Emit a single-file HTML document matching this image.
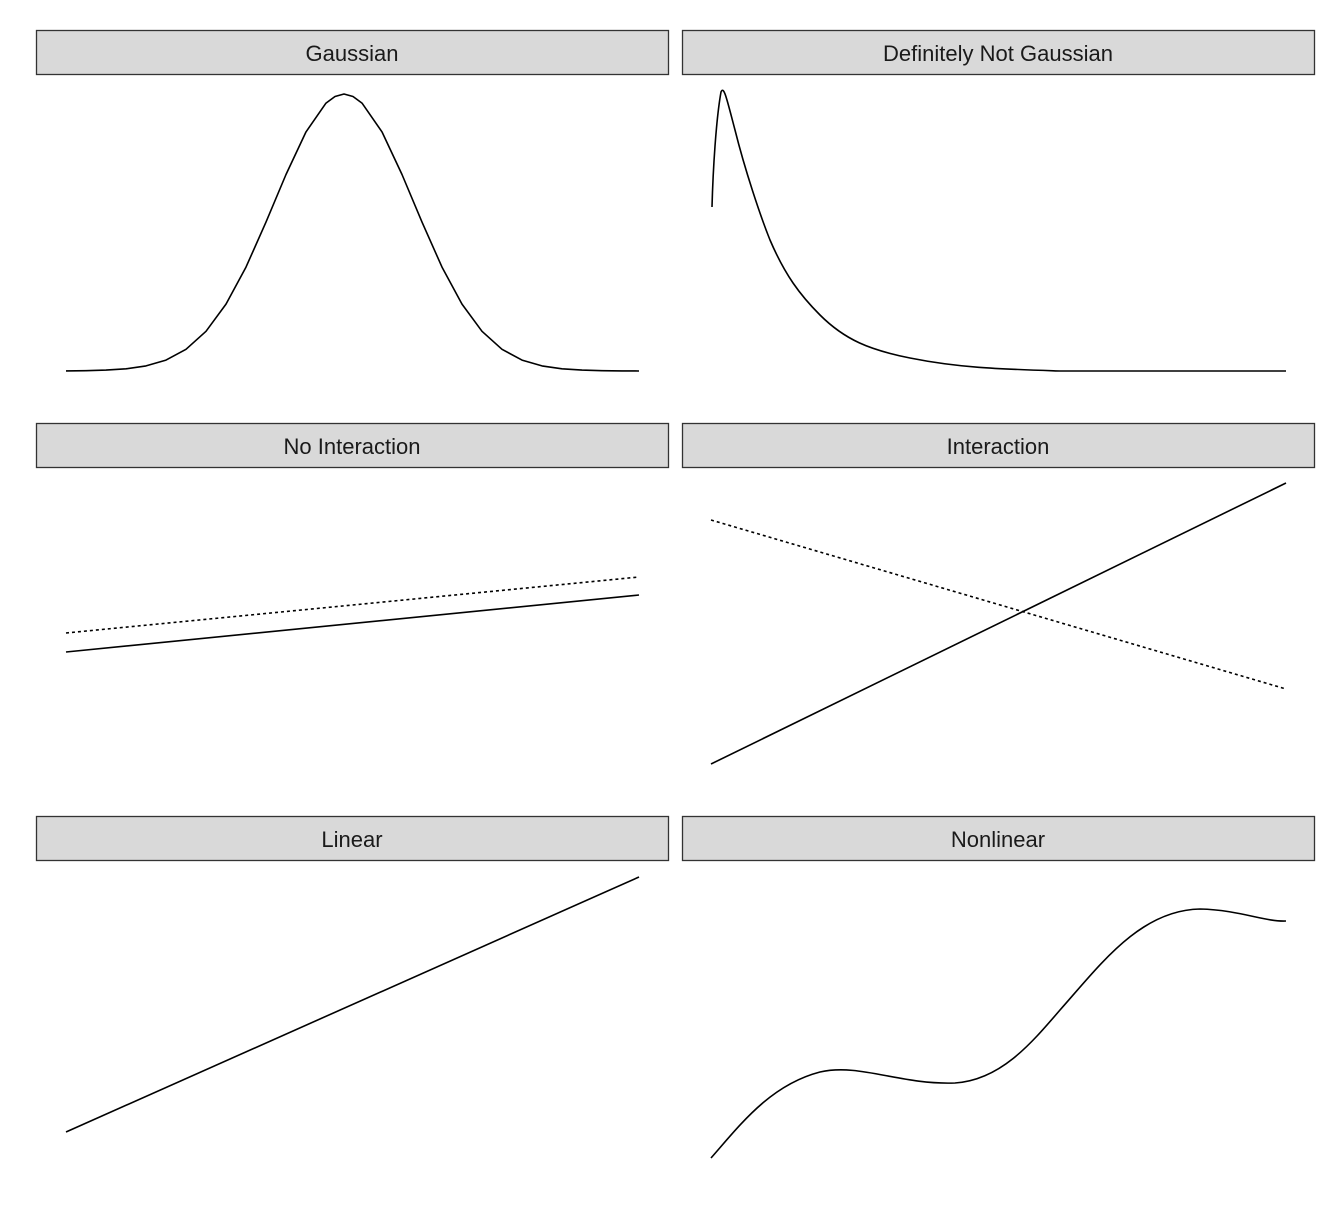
<!DOCTYPE html>
<html><head><style>
body{margin:0;background:#fff;}
svg{display:block;}
text{font-family:"Liberation Sans",sans-serif;font-size:22px;fill:#1a1a1a;}
</style></head><body>
<svg width="1344" height="1209" viewBox="0 0 1344 1209">
<g fill="#d9d9d9" stroke="#333" stroke-width="1.3">
<rect x="36.5" y="30.5" width="632" height="44"/>
<rect x="682.5" y="30.5" width="632" height="44"/>
<rect x="36.5" y="423.5" width="632" height="44"/>
<rect x="682.5" y="423.5" width="632" height="44"/>
<rect x="36.5" y="816.5" width="632" height="44"/>
<rect x="682.5" y="816.5" width="632" height="44"/>
</g>
<g text-anchor="middle">
<text x="352" y="61">Gaussian</text>
<text x="998" y="61">Definitely Not Gaussian</text>
<text x="352" y="454">No Interaction</text>
<text x="998" y="454">Interaction</text>
<text x="352" y="847">Linear</text>
<text x="998" y="847">Nonlinear</text>
</g>
<g fill="none" stroke="#000" stroke-width="1.6" stroke-linejoin="round">
<polyline points="66,370.9 86,370.7 106,370.1 126,368.8 146,365.9 166,360.1 186,349.3 206,331.3 226,304.1 246,267.1 266,222.1 286,174.5 306,131.9 326,103.1 335,96.5 344,94 353,96.5 362,103.1 382,131.9 402,174.5 422,222.1 442,267.1 462,304.1 482,331.3 502,349.3 522,360.1 542,365.9 562,368.8 582,370.1 602,370.7 622,370.9 639,371"/>
<path d="M712,207 C713,170 716,120 721,92 C724,85 727,100 735,130 C745,170 760,215 770,240 C785,275 800,295 820,315 C845,340 870,350 910,358 C960,368 1000,369 1060,371 L1286,371"/>
<path d="M66,652 L639,595"/>
<path d="M66,633 L639,577" stroke-dasharray="3,3"/>
<path d="M711,764 L1286,483"/>
<path d="M711,520 L1286,689" stroke-dasharray="3,3"/>
<path d="M66,1132 L639,877"/>
<path d="M711,1158 C740,1125 770,1085 820,1072 C860,1063 900,1085 955,1083 C1000,1080 1030,1045 1060,1010 C1100,965 1140,910 1200,909 C1240,910 1265,922 1286,921"/>
</g>
</svg>
</body></html>
